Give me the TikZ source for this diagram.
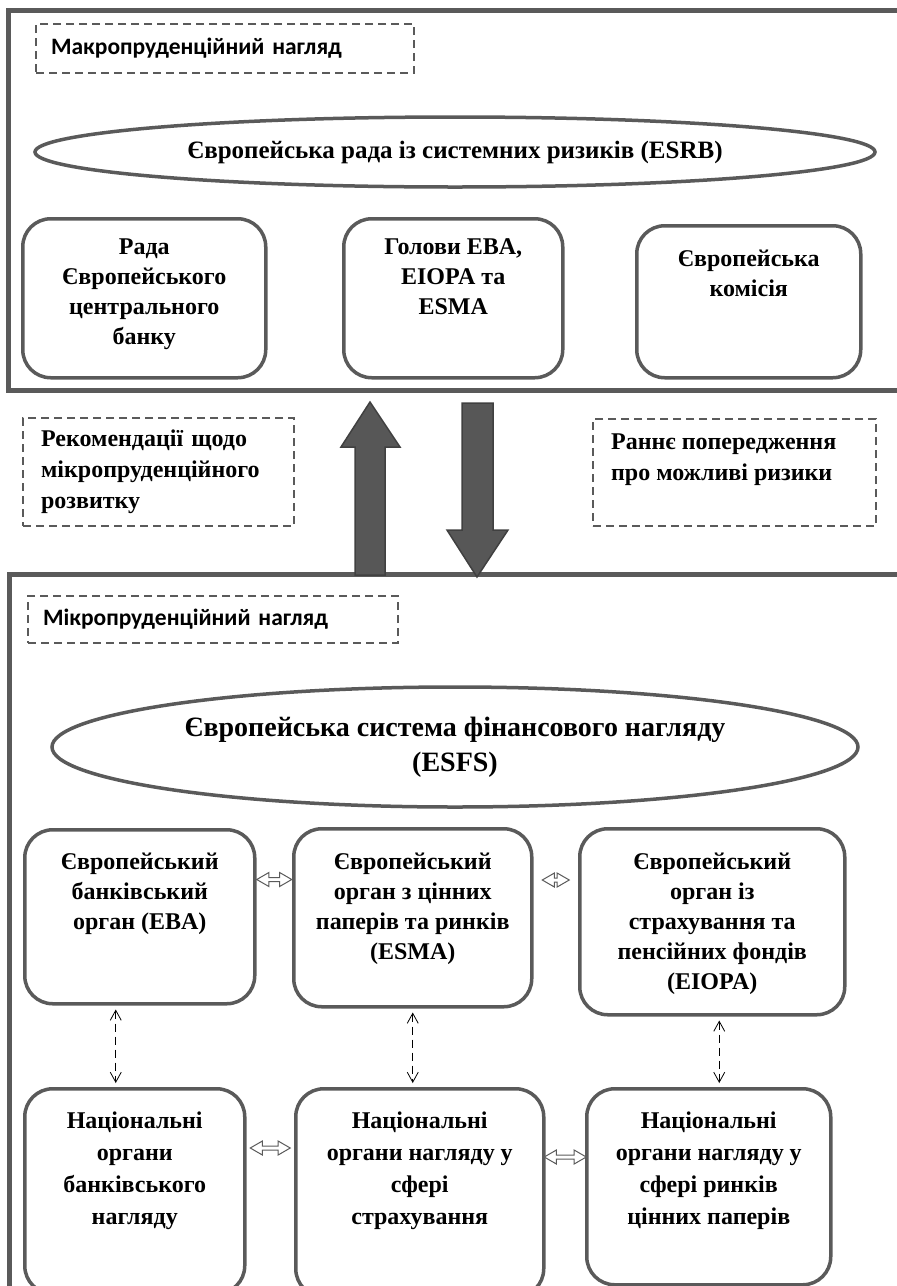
\documentclass[tikz,border=0pt]{standalone}
\usepackage{fontspec}
\setmainfont{Liberation Serif}
\newfontfamily\labelfont{Carlito}
\usetikzlibrary{arrows.meta,shapes.geometric,shapes.arrows}

\definecolor{linegray}{HTML}{5A5A5A}
\definecolor{arrowgray}{HTML}{575757}

% text of a box, set at its top
\newcommand{\orgtext}[4]{\parbox[t][#2][t]{#1}{\centering\vspace*{#3}#4\par}}

\tikzset{
  frame/.style={draw=linegray, line width=5pt},
  tag/.style={draw=linegray, line width=2.2pt, dash pattern=on 8pt off 5pt,
              anchor=north west, inner sep=0pt, align=left},
  oval/.style={ellipse, draw=linegray, line width=3.5pt, inner sep=0pt, align=center},
  org/.style={draw=linegray, line width=3.5pt, rounded corners=28pt, anchor=north west,
              inner sep=0pt, font=\fontsize{24pt}{#1}\selectfont\bfseries},
  bigarrow/.style={fill=arrowgray, draw=black!75, line width=1.5pt, line join=miter},
  dblarrow/.style={double arrow, draw=linegray, line width=1pt, fill=white, inner sep=1.5pt,
                   double arrow head extend=5pt, double arrow tip angle=60,
                   minimum width=13pt, minimum height=#1},
  link/.style={line width=0.8pt, dash pattern=on 8pt off 5pt,
               {Straight Barb[length=10pt,width=11pt]}-{Straight Barb[length=10pt,width=11pt]},
               shorten <=4pt, shorten >=4pt},
}

\begin{document}
\begin{tikzpicture}[x=1pt, y=-1pt]
  \useasboundingbox (0,0) rectangle (897,1286);
  \clip (0,0) rectangle (897,1286);

  % the two frames
  \draw[frame] (8,10) rectangle (920,390);
  \draw[frame] (9,574) rectangle (920,1320);

  % macroprudential part
  \node[tag, minimum width=378pt, minimum height=49pt, text width=348pt,
        font=\labelfont\bfseries\fontsize{23.5pt}{27pt}\selectfont] (macrolbl) at (35,23)
       {Макропруденційний нагляд};
  \node[oval, minimum width=840pt, minimum height=70pt,
        font=\fontsize{25pt}{30pt}\selectfont\bfseries] (esrb) at (455,152)
       {Європейська рада із системних ризиків (ESRB)};

  \node[org=30pt] (ecb) at (21,217)
       {\orgtext{243pt}{159pt}{20pt}{Рада\\Європейського\\центрального\\банку}};
  \node[org=30pt] (heads) at (342,217)
       {\orgtext{219pt}{159pt}{20pt}{Голови EBA,\\EIOPA та\\ESMA}};
  \node[org=30pt] (comm) at (635,224)
       {\orgtext{224pt}{152pt}{24pt}{Європейська\\комісія}};

  % between the frames
  \filldraw[bigarrow] (355,575) -- (355,447) -- (341,447) -- (370,402)
                      -- (400,447) -- (385,447) -- (385,575) -- cycle;
  \filldraw[bigarrow] (462,403) -- (493,403) -- (493,530) -- (508,530)
                      -- (477,577) -- (447,530) -- (462,530) -- cycle;

  \node[tag, minimum width=271pt, minimum height=108pt, text width=235pt,
        font=\fontsize{24pt}{31pt}\selectfont\bfseries] (recom) at (22,417)
       {Рекомендації щодо\\мікропруденційного\\розвитку};
  \node[tag, minimum width=283pt, font=\fontsize{24pt}{31pt}\selectfont\bfseries] (warn) at (592,418)
       {\parbox[t][107pt][t]{247pt}{\vspace*{15pt}Раннє попередження\\про можливі ризики\par}};

  % microprudential part
  \node[tag, minimum width=370pt, minimum height=47pt, text width=340pt,
        font=\labelfont\bfseries\fontsize{23.5pt}{27pt}\selectfont] (microlbl) at (27,595)
       {Мікропруденційний нагляд};
  \node[oval, minimum width=806pt, minimum height=120pt,
        font=\fontsize{28pt}{35pt}\selectfont\bfseries] (esfs) at (455,747)
       {Європейська система фінансового нагляду\\(ESFS)};

  \node[org=30pt] (eba) at (23,828)
       {\orgtext{230pt}{174pt}{23pt}{Європейський\\банківський\\орган (EBA)}};
  \node[org=30pt] (esma) at (292,827)
       {\orgtext{238pt}{178pt}{24pt}{Європейський\\орган з цінних\\паперів та ринків\\(ESMA)}};
  \node[org=30pt] (eiopa) at (578,827)
       {\orgtext{265pt}{186pt}{24pt}{Європейський\\орган із\\страхування та\\пенсійних фондів\\(EIOPA)}};

  \node[org=32pt] (nbank) at (23,1087)
       {\orgtext{220pt}{205pt}{23pt}{Національні\\органи\\банківського\\нагляду}};
  \node[org=32pt] (ninsur) at (294,1087)
       {\orgtext{248pt}{208pt}{23pt}{Національні\\органи нагляду у\\сфері\\страхування}};
  \node[org=32pt] (nsec) at (585,1087)
       {\orgtext{244pt}{196pt}{23pt}{Національні\\органи нагляду у\\сфері ринків\\цінних паперів}};

  % links
  \path ([yshift=-52pt]eba.north east) -- node[dblarrow=35pt] {} ([yshift=-52pt]esma.north west);
  \path ([yshift=-53pt]esma.north east) -- node[dblarrow=27pt] {} ([yshift=-53pt]eiopa.north west);
  \path ([yshift=-61pt]nbank.north east) -- node[dblarrow=40pt] {} ([yshift=-61pt]ninsur.north west);
  \path ([yshift=-70pt]ninsur.north east) -- node[dblarrow=42pt] {} ([yshift=-70pt]nsec.north west);

  \draw[link] ([xshift=-24pt]eba.south) -- ([xshift=-24pt]eba.south |- nbank.north);
  \draw[link] (esma.south) -- (esma.south |- ninsur.north);
  \draw[link] ([xshift=7pt]eiopa.south) -- ([xshift=7pt]eiopa.south |- nsec.north);
\end{tikzpicture}
\end{document}
